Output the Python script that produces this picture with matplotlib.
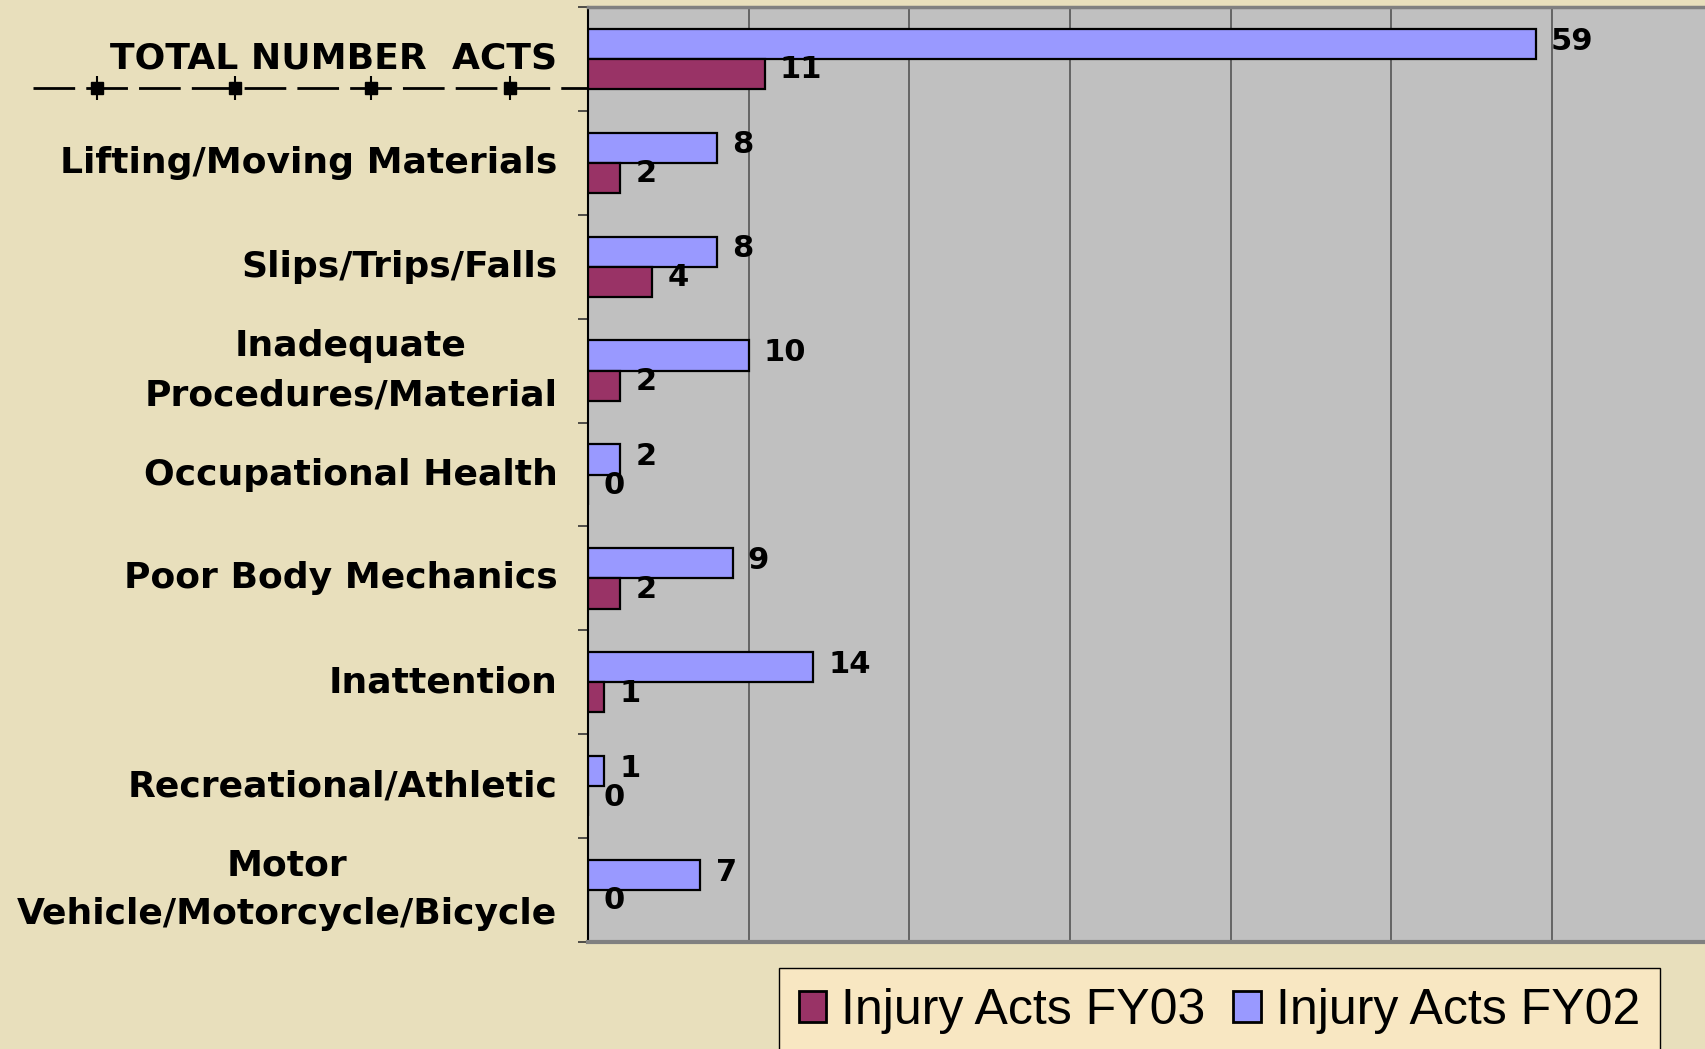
import matplotlib
matplotlib.use('Agg')
import matplotlib.pyplot as plt
from matplotlib.patches import Patch
from matplotlib.lines import Line2D
import numpy as np

# data
categories = ['TOTAL NUMBER  ACTS', 'Lifting/Moving Materials', 'Slips/Trips/Falls',
              'Inadequate\nProcedures/Material', 'Occupational Health',
              'Poor Body Mechanics', 'Inattention', 'Recreational/Athletic',
              'Motor\nVehicle/Motorcycle/Bicycle']
fy02 = [59, 8, 8, 10, 2, 9, 14, 1, 7]
fy03 = [11, 2, 4, 2, 0, 2, 1, 0, 0]

blue = '#9999FF'
maroon = '#993366'
bg = '#E8DFBC'

plt.rcParams['lines.scale_dashes'] = False

W, H = 1706, 1049
fig = plt.figure(figsize=(W / 100, H / 100), dpi=100)
fig.patch.set_facecolor(bg)
ax = fig.add_axes([588 / W, 1 - 942 / H, 1 - 588 / W, (942 - 7) / H])
ax.set_facecolor('#C0C0C0')

y = np.arange(len(categories))
bh = 0.29
ax.barh(y - 0.145, fy02, height=bh, color=blue, edgecolor='black', linewidth=1.6, zorder=3)
ax.barh(y + 0.145, fy03, height=bh, color=maroon, edgecolor='black', linewidth=1.6, zorder=3)

for i in range(len(categories)):
    ax.annotate(str(fy02[i]), (fy02[i], y[i] - 0.145), xytext=(11, 2), textcoords='offset points',
                ha='left', va='center', fontsize=22, fontweight='bold', zorder=4)
    ax.annotate(str(fy03[i]), (fy03[i], y[i] + 0.145), xytext=(11, 3), textcoords='offset points',
                ha='left', va='center', fontsize=22, fontweight='bold', zorder=4)

ax.set_xlim(0, 69.6)
ax.set_ylim(len(categories) - 0.5, -0.5)
ax.set_xticks(range(10, 70, 10))
ax.tick_params(axis='x', length=0, labelbottom=False)
ax.grid(axis='x', color='#555555', linewidth=1.2, zorder=1)

ax.set_yticks(y)
ax.set_yticklabels(categories, fontsize=26, fontweight='bold', linespacing=1.55)
for t in ax.get_yticklabels():
    t.set_multialignment('center')
    t.set_verticalalignment('center')
ax.tick_params(axis='y', which='major', length=0, pad=22)
ax.set_yticks(np.arange(-0.5, len(categories), 1), minor=True)
ax.tick_params(axis='y', which='minor', length=7, width=1.2, color='#333333', direction='out')

ax.spines['right'].set_visible(False)
ax.spines['left'].set_color('black')
ax.spines['left'].set_linewidth(1.5)
ax.spines['top'].set_color('#808080')
ax.spines['top'].set_linewidth(2.5)
ax.spines['bottom'].set_color('#808080')
ax.spines['bottom'].set_linewidth(3)

# dashed rule under the total row
ly = 1 - 88 / H
fig.add_artist(Line2D([33 / W, 588 / W], [ly, ly], color='black', linewidth=2,
                      dashes=(30, 8), transform=fig.transFigure))
mx = [97 / W, 235 / W, 371 / W, 510 / W]
fig.add_artist(Line2D(mx, [ly] * 4, linestyle='none', marker='|', markersize=17,
                      markeredgewidth=1.5, color='black', transform=fig.transFigure))
fig.add_artist(Line2D(mx, [ly] * 4, linestyle='none', marker='s', markersize=9,
                      color='black', transform=fig.transFigure))

handles = [Patch(facecolor=maroon, edgecolor='black', linewidth=2),
           Patch(facecolor=blue, edgecolor='black', linewidth=2)]
fig.legend(handles, ['Injury Acts FY03', 'Injury Acts FY02'], loc='upper left',
           bbox_to_anchor=(779 / W, 1 - 968 / H), ncol=2, frameon=True, fancybox=False,
           edgecolor='black', facecolor='#F8E7C2', framealpha=1,
           prop={'family': 'Liberation Sans', 'size': 36},
           handlelength=0.55, handleheight=0.58, handletextpad=0.3, columnspacing=0.55,
           borderpad=0.4, borderaxespad=0)

fig.savefig('out.png', dpi=100, facecolor=bg)
